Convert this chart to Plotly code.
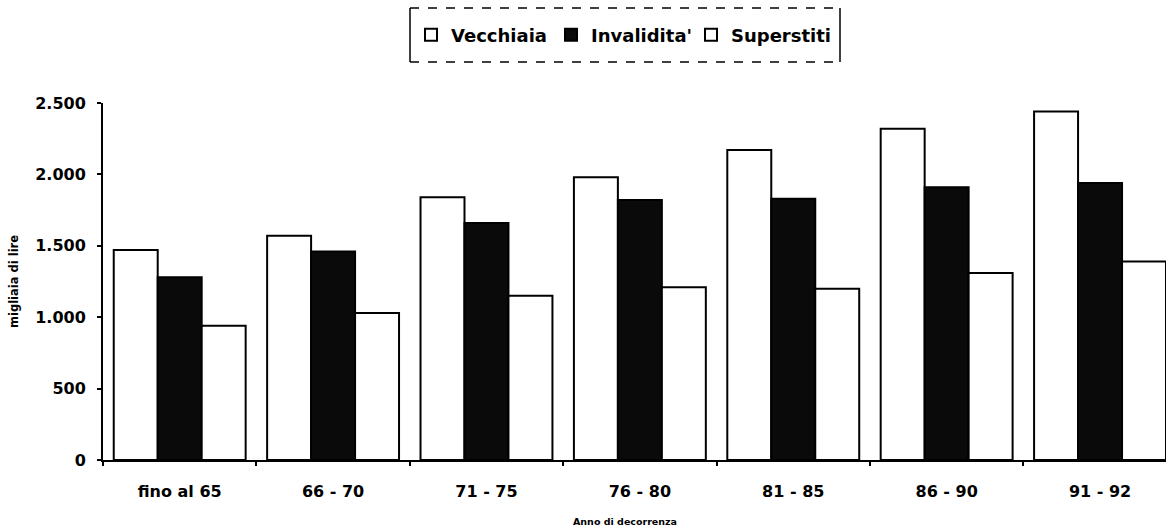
import plotly.graph_objects as go

# Average pension amounts by year the pension started (thousands of lire)
periods = ["fino al 65", "66 - 70", "71 - 75", "76 - 80", "81 - 85", "86 - 90", "91 - 92"]
vecchiaia = [1470, 1570, 1840, 1980, 2170, 2320, 2440]
invalidita = [1280, 1460, 1660, 1820, 1830, 1910, 1940]
superstiti = [940, 1030, 1150, 1210, 1200, 1310, 1390]
y_ticks = [0, 500, 1000, 1500, 2000, 2500]
y_tick_text = ["0", "500", "1.000", "1.500", "2.000", "2.500"]

FONT = "DejaVu Sans"
W, H = 1166, 531
L, R, T, B = 103, 0, 103, 71
PW, PH = W - L - R, H - T - B


def px_x(x):
    return (x - L) / PW


def px_y(y):
    return (H - B - y) / PH


outline = dict(color="#000000", width=2)

fig = go.Figure()
fig.add_trace(go.Bar(name="Vecchiaia", x=periods, y=vecchiaia,
                     marker=dict(color="#ffffff", line=outline)))
fig.add_trace(go.Bar(name="Invalidita'", x=periods, y=invalidita,
                     marker=dict(color="#0a0a0a", line=outline)))
fig.add_trace(go.Bar(name="Superstiti", x=periods, y=superstiti,
                     marker=dict(color="#ffffff", line=outline)))

axis_font = dict(family=FONT, size=16, color="#000000", weight="bold")

fig.update_layout(
    width=W, height=H,
    margin=dict(l=L, r=R, t=T, b=B, pad=0),
    paper_bgcolor="#ffffff", plot_bgcolor="#ffffff",
    barmode="group", bargap=0.14, bargroupgap=0,
    showlegend=True,
    legend=dict(
        orientation="h", x=px_x(411), xanchor="left",
        y=px_y(35), yanchor="middle",
        font=dict(family=FONT, size=18, color="#000000", weight="bold"),
        bgcolor="rgba(0,0,0,0)", borderwidth=0,
        entrywidth=95, entrywidthmode="pixels",
        traceorder="normal",
    ),
    xaxis=dict(
        type="category", range=[-0.5, 6.43],
        showline=True, linecolor="#000000", linewidth=2,
        ticks="outside", ticklen=4, tickwidth=1.5, tickcolor="#000000",
        tickson="boundaries", showgrid=False, zeroline=False,
        tickfont=axis_font, ticklabelstandoff=16,
    ),
    yaxis=dict(
        range=[0, 2500], tickvals=y_ticks, ticktext=y_tick_text,
        showline=True, linecolor="#000000", linewidth=2,
        ticks="outside", ticklen=4, tickwidth=1.5, tickcolor="#000000",
        showgrid=False, zeroline=False,
        tickfont=axis_font, ticklabelstandoff=8,
    ),
    yaxis2=dict(
        overlaying="y", matches="y", side="left",
        tickvals=y_ticks, showticklabels=False,
        ticks="inside", ticklen=4, tickwidth=1.5, tickcolor="#000000",
        showline=False, showgrid=False, zeroline=False,
    ),
    annotations=[
        dict(text="migliaia di lire", xref="paper", yref="paper",
             x=px_x(14), y=px_y(282), xanchor="center", yanchor="middle",
             textangle=-90, showarrow=False,
             font=dict(family=FONT, size=11.5, color="#000000", weight="bold")),
        dict(text="Anno di decorrenza", xref="paper", yref="paper",
             x=px_x(625), y=px_y(521), xanchor="center", yanchor="middle",
             showarrow=False,
             font=dict(family=FONT, size=9.5, color="#000000", weight="bold")),
    ],
    shapes=[
        # legend frame: dashed top and bottom, solid sides
        dict(type="line", xref="paper", yref="paper",
             x0=px_x(410), x1=px_x(840), y0=px_y(8), y1=px_y(8),
             line=dict(color="#000000", width=1.5, dash="dash")),
        dict(type="line", xref="paper", yref="paper",
             x0=px_x(410), x1=px_x(840), y0=px_y(62), y1=px_y(62),
             line=dict(color="#000000", width=1.5, dash="dash")),
        dict(type="line", xref="paper", yref="paper",
             x0=px_x(410), x1=px_x(410), y0=px_y(8), y1=px_y(62),
             line=dict(color="#000000", width=1.5)),
        dict(type="line", xref="paper", yref="paper",
             x0=px_x(840), x1=px_x(840), y0=px_y(8), y1=px_y(62),
             line=dict(color="#000000", width=1.5)),
    ],
)

fig.write_html("out.html")
